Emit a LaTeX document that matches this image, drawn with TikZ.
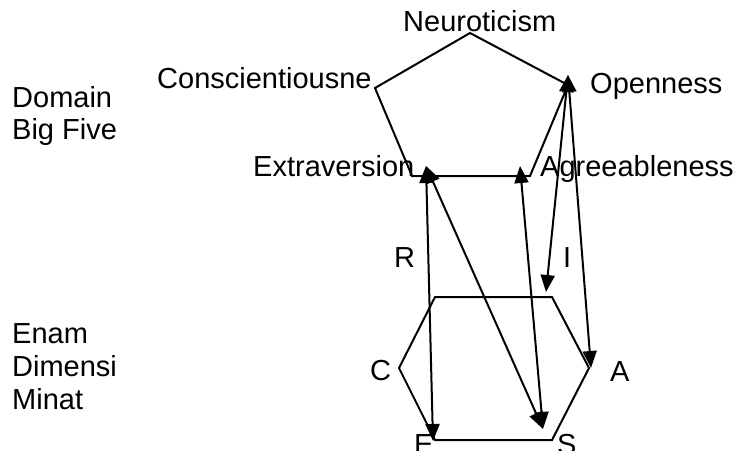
\documentclass[tikz,border=0pt]{standalone}
\usepackage{fontspec}
\setmainfont{Liberation Sans}
\usetikzlibrary{arrows.meta}
\tikzset{
  lbl/.style={inner sep=0pt, anchor=base west, font=\fontsize{29}{34}\selectfont},
  edge/.style={line width=2pt, line join=miter},
  link/.style={line width=2pt, {Triangle[length=17pt,width=14pt]}-{Triangle[length=17pt,width=14pt]}}
}
\begin{document}
\begin{tikzpicture}[x=1pt,y=-1pt]
\useasboundingbox (0,0) rectangle (735,450);
\clip (0,0) rectangle (735,450);
% pentagon vertices
\coordinate (pN) at (470,33);
\coordinate (pC) at (375,88);
\coordinate (pE) at (412,176);
\coordinate (pA) at (530,176);
\coordinate (pO) at (568,85);
\draw[edge] (pN) -- (pC) -- (pE) -- (pA) -- (pO) -- cycle;
% hexagon vertices
\coordinate (h1) at (435,297);
\coordinate (h2) at (552,297);
\coordinate (h3) at (589,368);
\coordinate (h4) at (552,440);
\coordinate (h5) at (435,440);
\coordinate (h6) at (399,368);
\draw[edge] (h1) -- (h2) -- (h3) -- (h4) -- (h5) -- (h6) -- cycle;
% arrow ends
\coordinate (tExt) at (426,166);
\coordinate (tAgr) at (520,166);
\coordinate (tOpe) at (568,75);
\coordinate (tE) at (433,441);
\coordinate (tS) at (543,429);
\coordinate (tI) at (546,292);
\coordinate (tA) at (591,368);
\draw[link] (tExt) -- (tE);
\draw[link] (tExt) -- (tS);
\draw[link] (tAgr) -- (tS);
\draw[link] (tOpe) -- (tI);
\draw[link] (tOpe) -- (tA);
% labels
\node[lbl] (neu) at (403,31) {Neuroticism};
\node[lbl] (con) at (157,88) {Conscientiousne};
\node[lbl] (ope) at (590,93) {Openness};
\node[lbl] (ext) at (253,176) {Extraversion};
\node[lbl] (agr) at (540,176) {Agreeableness};
\node[lbl] (dom1) at (12,107) {Domain};
\node[lbl] (dom2) at (12,139) {Big Five};
\node[lbl] (en1) at (12,343) {Enam};
\node[lbl] (en2) at (12,376) {Dimensi};
\node[lbl] (en3) at (12,409) {Minat};
\node[lbl] (R) at (394,267) {R};
\node[lbl] (I) at (563,267) {I};
\node[lbl] (C) at (370,380) {C};
\node[lbl] (A) at (610,381) {A};
\node[lbl] (E) at (414,454) {E};
\node[lbl] (S) at (557,454) {S};
\end{tikzpicture}
\end{document}
